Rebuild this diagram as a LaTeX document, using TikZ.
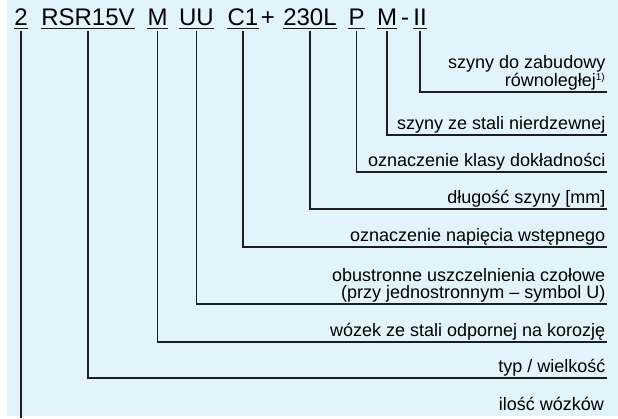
\documentclass[tikz,border=0pt]{standalone}
\usepackage{fontspec}
\setmainfont{Liberation Sans}
\usepackage{xcolor}
\usetikzlibrary{positioning}

\definecolor{panelblue}{HTML}{E1F3FB}
\definecolor{leader}{HTML}{1E1E1E}

\begin{document}
\begin{tikzpicture}[
        x=1pt, y=-1pt,
        % Styles
        part/.style={
            font=\fontsize{24}{24}\selectfont,
            inner sep=0pt,
            text height=17pt,
            text depth=3pt,
            anchor=base
        },
        label/.style={
            font=\fontsize{18}{17}\selectfont,
            align=right,
            anchor=south east,
            inner xsep=1.5pt,
            inner ysep=1.2pt
        },
        leaderline/.style={
            draw=leader,
            line width=1.1pt
        }
    ]

    % Frame and background
    \useasboundingbox (0,0) rectangle (618,418);
    \fill[panelblue] (7,0) rectangle (618,416);
    \coordinate (cut) at (0,418);

    % Order code
    \node[part] (c2) at (21,25) {2};
    \node[part] (cRSR) at (88,25) {RSR15V};
    \node[part] (cM) at (157.5,25) {M};
    \node[part] (cUU) at (196.5,25) {UU};
    \node[part] (cC) at (243,25) {C1};
    \node[part] (plus) at (268,25) {+};
    \node[part] (cL) at (310,25) {230L};
    \node[part] (cP) at (356.5,25) {P};
    \node[part] (cMs) at (387,25) {M};
    \node[part] (dash) at (405,25) {-};
    \node[part] (cII) at (420,25) {II};

    % Underlines
    \draw[leaderline, line width=1pt] (c2.south west) -- (c2.south east);
    \draw[leaderline, line width=1pt] (cRSR.south west) -- (cRSR.south east);
    \draw[leaderline, line width=1pt] (cM.south west) -- (cM.south east);
    \draw[leaderline, line width=1pt] (cUU.south west) -- (cUU.south east);
    \draw[leaderline, line width=1pt] (cC.south west) -- (cC.south east);
    \draw[leaderline, line width=1pt] (cL.south west) -- (cL.south east);
    \draw[leaderline, line width=1pt] (cP.south west) -- (cP.south east);
    \draw[leaderline, line width=1pt] (cMs.south west) -- (cMs.south east);
    \draw[leaderline, line width=1pt] (cII.south west) -- (cII.south east);

    % Descriptions
    \node[label] (lII) at (607,92) {szyny do zabudowy\\równoległej\textsuperscript{\fontsize{10}{10}\selectfont 1)}};
    \node[label] (lMs) at (607,135) {szyny ze stali nierdzewnej};
    \node[label] (lP) at (607,172) {oznaczenie klasy dokładności};
    \node[label] (lL) at (607,209) {długość szyny [mm]};
    \node[label] (lC) at (607,247) {oznaczenie napięcia wstępnego};
    \node[label] (lUU) at (607,304) {obustronne uszczelnienia czołowe\\(przy jednostronnym -- symbol U)};
    \node[label] (lM) at (607,342) {wózek ze stali odpornej na korozję};
    \node[label] (lRSR) at (607,378) {typ / wielkość};
    \node[label, anchor=base east] (l2) at (605.5,410) {ilość wózków};

    % Leader lines
    \draw[leaderline] ([yshift=-3pt]cII.south) |- (lII.south east);
    \draw[leaderline] ([yshift=-3pt]cMs.south) |- (lMs.south east);
    \draw[leaderline] ([yshift=-3pt]cP.south) |- (lP.south east);
    \draw[leaderline] ([yshift=-3pt]cL.south) |- (lL.south east);
    \draw[leaderline] ([yshift=-3pt]cC.south) |- (lC.south east);
    \draw[leaderline] ([yshift=-3pt]cUU.south) |- (lUU.south east);
    \draw[leaderline] ([yshift=-3pt]cM.south) |- (lM.south east);
    \draw[leaderline] ([yshift=-3pt]cRSR.south) |- (lRSR.south east);
    \draw[leaderline] ([yshift=-3pt]c2.south) -- (c2.south |- cut);

\end{tikzpicture}
\end{document}
